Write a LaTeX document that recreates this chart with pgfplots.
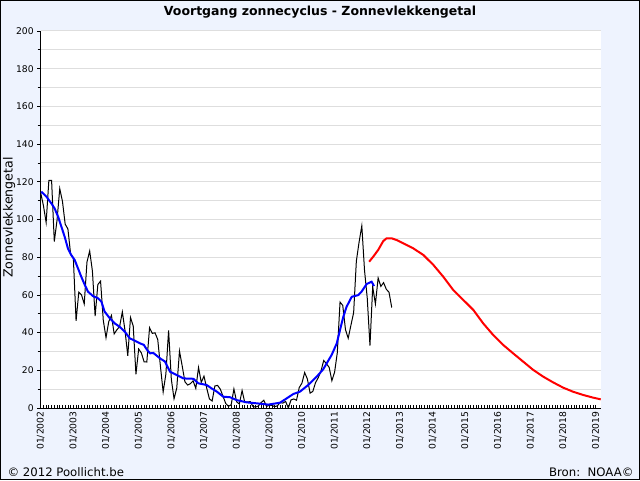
\documentclass[border=0pt]{standalone}
\usepackage{fontspec}
\setmainfont{DejaVu Sans}
\usepackage{pgfplots}
\pgfplotsset{compat=1.18}
\usepackage{pgfplotstable}
\definecolor{bgblue}{RGB}{238,243,254}
\definecolor{gridgray}{RGB}{222,222,222}

% maandelijks zonnevlekkengetal, m = maanden sinds 01/2002
\pgfplotstableread{
m v
0 114.1
1 107.4
2 98.4
3 120.7
4 120.8
5 88.3
6 99.6
7 116.4
8 109.6
9 97.5
10 95.0
11 81.6
12 79.5
13 46.2
14 61.5
15 60.0
16 55.2
17 77.4
18 83.3
19 72.7
20 48.7
21 65.5
22 67.3
23 46.5
24 37.3
25 45.8
26 49.1
27 39.3
28 41.5
29 43.2
30 51.0
31 40.9
32 27.7
33 48.0
34 43.5
35 17.9
36 31.3
37 29.2
38 24.5
39 24.4
40 42.6
41 39.6
42 39.9
43 36.4
44 22.1
45 8.5
46 18.0
47 41.2
48 15.3
49 4.9
50 10.6
51 30.2
52 22.3
53 13.9
54 12.2
55 12.9
56 14.4
57 10.4
58 21.5
59 13.6
60 16.9
61 10.6
62 4.8
63 3.7
64 11.7
65 12.0
66 10.0
67 6.2
68 2.4
69 0.9
70 1.7
71 10.1
72 3.3
73 2.1
74 9.3
75 2.9
76 3.2
77 3.4
78 0.8
79 0.5
80 1.1
81 2.9
82 4.1
83 0.8
84 1.5
85 1.4
86 0.7
87 1.2
88 2.9
89 2.6
90 3.5
91 0.0
92 4.3
93 4.8
94 4.1
95 10.8
96 13.2
97 18.8
98 15.4
99 7.9
100 8.8
101 13.5
102 16.1
103 19.6
104 25.2
105 23.5
106 21.6
107 14.5
108 19.0
109 29.4
110 56.2
111 54.4
112 41.6
113 37.0
114 43.9
115 50.6
116 78.0
117 88.0
118 96.7
119 73.0
120 58.3
121 33.1
122 64.3
123 55.2
124 69.0
125 64.5
126 66.5
127 63.0
128 61.4
129 53.3
}\monthly

% afgevlakt getal
\pgfplotstableread{
m v
0.2 114.8
2.1 112.1
3.9 108.6
5.1 105.9
6.4 101.5
7.6 96.2
8.8 90.9
10.0 84.7
11.2 81.2
12.5 78.5
13.7 74.1
14.9 69.7
16.2 65.3
17.4 61.7
19.2 59.4
21.1 58.2
22.3 56.4
23.5 51.1
25.4 47.6
27.2 44.9
29.0 43.1
30.9 40.5
32.7 37.0
34.0 36.1
36.5 34.3
37.9 33.5
39.0 31.0
40.2 29.0
41.4 29.2
43.8 26.4
45.7 24.6
47.5 19.3
50.0 17.5
52.4 15.7
56.1 15.5
57.9 13.1
61.0 12.2
62.8 10.4
64.7 8.7
67.1 6.0
69.6 5.7
72.0 4.2
75.7 3.0
80.6 2.3
83.6 1.8
87.9 2.8
90.4 5.1
92.8 7.4
95.3 8.7
98.3 12.2
101.4 16.6
103.8 20.5
105.1 23.7
106.9 28.1
108.8 34.3
110.0 41.4
111.2 48.4
112.4 53.7
114.3 59.0
116.7 59.9
117.9 61.7
119.8 65.8
121.6 67.0
122.5 64.7
}\smoothed

% voorspelling
\pgfplotstableread{
m v
120.7 77.6
122.2 80.3
124.0 83.8
125.9 88.6
127.1 90.0
129.0 90.0
130.8 89.1
133.2 87.4
136.9 84.7
140.6 81.2
144.3 75.9
147.9 69.7
151.6 62.6
155.3 57.3
159.0 52.0
162.6 44.9
166.3 38.7
170.0 33.4
173.6 29.0
177.3 24.6
181.0 20.2
184.7 16.6
188.3 13.6
192.0 10.8
195.7 8.6
199.4 6.9
203.0 5.5
205.8 4.6
}\prediction

\begin{document}
\begin{tikzpicture}[x=1pt,y=1pt]
\useasboundingbox (0,0) rectangle (640,480);
\fill[bgblue] (0,0) rectangle (640,480);
\draw[black, line width=1pt] (0.5,0.5) rectangle (639.5,479.5);
\node[anchor=base, font=\bfseries\fontsize{12.5}{14}\selectfont] at (320,464) {Voortgang zonnecyclus - Zonnevlekkengetal};
\node[anchor=base west, font=\fontsize{11.7}{13}\selectfont] at (4,4) {© 2012 Poollicht.be};
\node[anchor=base east, font=\fontsize{11.7}{13}\selectfont] at (637,4) {Bron:\ \ NOAA©};
\begin{axis}[
  at={(40.7pt,72pt)}, anchor=south west,
  scale only axis, width=560.3pt, height=377pt,
  xmin=0, xmax=205.9, ymin=0, ymax=200,
  axis background/.style={fill=white},
  axis x line*=bottom, axis y line*=left,
  axis line style={black, line width=1pt},
  xtick={0,12,...,204},
  xticklabels={01/2002,01/2003,01/2004,01/2005,01/2006,01/2007,01/2008,01/2009,01/2010,01/2011,01/2012,01/2013,01/2014,01/2015,01/2016,01/2017,01/2018,01/2019},
  minor x tick num=11,
  ytick={0,20,...,200},
  minor ytick={10,30,...,190},
  ymajorgrids, yminorgrids,
  major grid style={gridgray, line width=1pt},
  minor grid style={gridgray, line width=1pt},
  xtick align=inside, ytick align=outside,
  major tick length=3.5pt, minor tick length=3pt,
  tick style={black, line width=0.8pt},
  /pgf/number format/assume math mode=true,
  tick label style={font=\fontsize{9.2}{10}\selectfont},
  xticklabel style={rotate=90, anchor=east},
  ylabel={Zonnevlekkengetal},
  every axis y label/.style={at={(axis description cs:-0.04997,0.5053)}, rotate=90, anchor=base, font=\fontsize{12.6}{14}\selectfont},
]
\addplot[black, line width=1pt] table[x=m, y=v] {\monthly};
\addplot[blue, line width=2pt] table[x=m, y=v] {\smoothed};
\addplot[red, line width=2pt] table[x=m, y=v] {\prediction};
\end{axis}
\end{tikzpicture}
\end{document}
